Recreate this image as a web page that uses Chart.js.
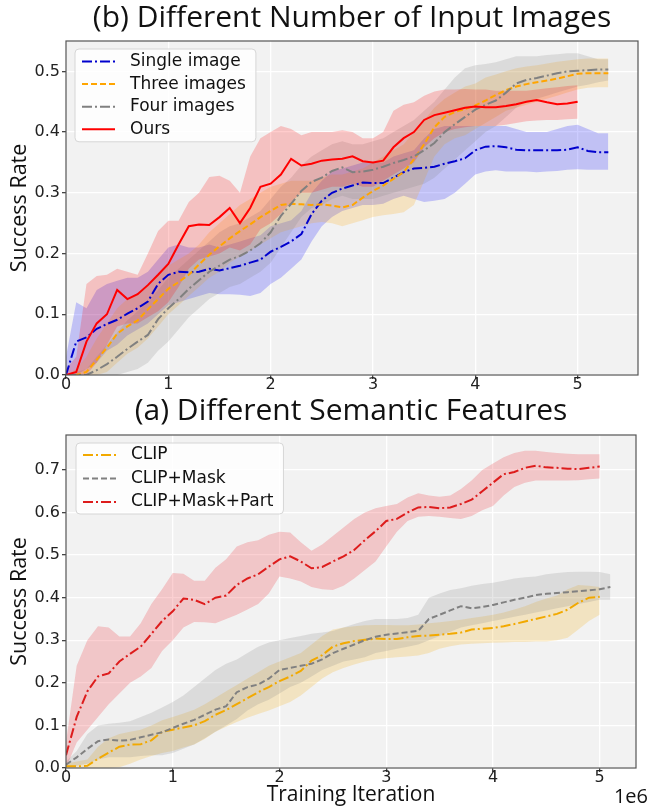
<!DOCTYPE html>
<html>
<head>
<meta charset="utf-8">
<script src="https://cdn.jsdelivr.net/npm/chart.js@4.4.1/dist/chart.umd.min.js"></script>
<style>
  html, body { margin: 0; padding: 0; background: #fff; }
  #wrap { position: relative; width: 654px; height: 806px; }
  #topChart { position: absolute; left: 0; top: 0; }
  #bottomChart { position: absolute; left: 0; top: 395px; }
</style>
</head>
<body>
<div id="wrap">
  <canvas id="topChart" width="654" height="400"></canvas>
  <canvas id="bottomChart" width="654" height="411"></canvas>
</div>
<script>
// ---------- (b) Different Number of Input Images ----------
const iterTop = [0,0.1,0.2,0.3,0.4,0.5,0.6,0.7,0.8,0.9,1.0,1.1,1.2,1.3,1.4,1.5,1.6,1.7,1.8,1.9,
  2.0,2.1,2.2,2.3,2.4,2.5,2.6,2.7,2.8,2.9,3.0,3.1,3.2,3.3,3.4,3.5,3.6,3.7,3.8,3.9,
  4.0,4.1,4.2,4.3,4.4,4.5,4.6,4.7,4.8,4.9,5.0,5.1,5.2,5.3];

const singleMean = [0.000,0.055,0.062,0.076,0.084,0.091,0.101,0.110,0.121,0.150,
  0.165,0.170,0.169,0.170,0.175,0.172,0.176,0.180,0.185,0.190,
  0.203,0.211,0.220,0.232,0.265,0.287,0.300,0.307,0.312,0.317,
  0.316,0.316,0.325,0.334,0.340,0.341,0.343,0.348,0.352,0.357,
  0.370,0.376,0.377,0.375,0.371,0.370,0.370,0.370,0.370,0.371,
  0.375,0.369,0.367,0.367];
const singleUpper = [0.030,0.120,0.110,0.140,0.150,0.155,0.160,0.160,0.170,0.190,
  0.210,0.215,0.210,0.210,0.215,0.210,0.215,0.220,0.225,0.230,
  0.245,0.250,0.255,0.270,0.300,0.320,0.335,0.340,0.345,0.350,
  0.350,0.350,0.360,0.365,0.370,0.390,0.405,0.410,0.410,0.410,
  0.410,0.410,0.410,0.410,0.405,0.400,0.400,0.400,0.405,0.410,
  0.412,0.405,0.398,0.398];
const singleLower = [0.000,0.000,0.010,0.020,0.040,0.050,0.065,0.075,0.085,0.100,
  0.115,0.120,0.125,0.130,0.135,0.133,0.133,0.132,0.130,0.135,
  0.150,0.160,0.175,0.190,0.220,0.245,0.260,0.270,0.275,0.280,
  0.280,0.282,0.290,0.295,0.290,0.285,0.287,0.290,0.300,0.315,
  0.330,0.335,0.337,0.335,0.335,0.335,0.334,0.335,0.336,0.338,
  0.339,0.338,0.338,0.338];

const threeMean = [0.000,0.000,0.005,0.025,0.045,0.068,0.080,0.090,0.108,0.125,
  0.142,0.153,0.165,0.182,0.198,0.212,0.225,0.237,0.248,0.260,
  0.270,0.280,0.282,0.281,0.280,0.281,0.279,0.276,0.280,0.292,
  0.303,0.312,0.323,0.334,0.355,0.380,0.408,0.425,0.433,0.438,
  0.444,0.452,0.461,0.469,0.475,0.479,0.482,0.485,0.488,0.492,
  0.496,0.497,0.497,0.497];
const threeUpper = [0.000,0.010,0.030,0.060,0.085,0.110,0.125,0.135,0.150,0.165,
  0.180,0.190,0.200,0.215,0.235,0.250,0.265,0.280,0.290,0.300,
  0.310,0.315,0.320,0.320,0.320,0.325,0.330,0.330,0.335,0.340,
  0.350,0.360,0.370,0.380,0.400,0.420,0.440,0.455,0.465,0.475,
  0.480,0.490,0.495,0.500,0.505,0.508,0.510,0.513,0.516,0.518,
  0.520,0.521,0.521,0.521];
const threeLower = [0.000,0.000,0.000,0.000,0.005,0.020,0.035,0.045,0.060,0.080,
  0.100,0.115,0.130,0.145,0.160,0.170,0.185,0.195,0.205,0.215,
  0.225,0.235,0.240,0.245,0.250,0.252,0.250,0.245,0.250,0.255,
  0.260,0.263,0.265,0.268,0.280,0.320,0.360,0.380,0.390,0.395,
  0.405,0.415,0.425,0.435,0.440,0.445,0.450,0.455,0.460,0.465,
  0.470,0.473,0.474,0.474];

const fourMean = [0.000,0.000,0.000,0.008,0.018,0.030,0.043,0.055,0.066,0.092,
  0.110,0.125,0.142,0.156,0.170,0.180,0.190,0.196,0.205,0.217,
  0.235,0.262,0.282,0.303,0.318,0.325,0.336,0.342,0.334,0.335,
  0.338,0.343,0.349,0.354,0.360,0.370,0.382,0.400,0.413,0.425,
  0.437,0.445,0.452,0.465,0.480,0.486,0.489,0.493,0.497,0.500,
  0.501,0.502,0.503,0.503];
const fourUpper = [0.000,0.005,0.010,0.030,0.050,0.070,0.090,0.105,0.120,0.140,
  0.160,0.175,0.190,0.205,0.220,0.235,0.245,0.250,0.260,0.270,
  0.290,0.310,0.325,0.345,0.360,0.370,0.380,0.385,0.380,0.380,
  0.385,0.390,0.400,0.410,0.420,0.435,0.450,0.470,0.490,0.505,
  0.510,0.512,0.515,0.520,0.525,0.525,0.525,0.527,0.528,0.530,
  0.530,0.525,0.520,0.520];
const fourLower = [0.000,0.000,0.000,0.000,0.000,0.000,0.005,0.010,0.020,0.040,
  0.055,0.075,0.095,0.110,0.125,0.135,0.145,0.150,0.160,0.170,
  0.185,0.210,0.235,0.260,0.275,0.280,0.290,0.295,0.290,0.290,
  0.290,0.295,0.300,0.305,0.310,0.315,0.325,0.340,0.355,0.370,
  0.385,0.400,0.410,0.425,0.440,0.450,0.455,0.460,0.465,0.470,
  0.475,0.478,0.482,0.485];

const oursMean = [0.000,0.005,0.055,0.085,0.100,0.140,0.125,0.133,0.148,0.165,
  0.183,0.215,0.245,0.248,0.247,0.260,0.275,0.250,0.275,0.310,
  0.315,0.330,0.356,0.345,0.348,0.353,0.355,0.356,0.360,0.352,
  0.350,0.353,0.375,0.390,0.400,0.420,0.428,0.432,0.436,0.440,
  0.442,0.441,0.441,0.443,0.446,0.450,0.453,0.449,0.446,0.447,
  0.450];
const oursUpper = [0.010,0.030,0.150,0.163,0.165,0.175,0.170,0.165,0.200,0.237,
  0.254,0.254,0.285,0.300,0.326,0.328,0.320,0.300,0.360,0.390,
  0.400,0.410,0.405,0.395,0.400,0.400,0.400,0.403,0.400,0.390,
  0.390,0.400,0.435,0.445,0.449,0.460,0.467,0.470,0.470,0.471,
  0.470,0.470,0.468,0.468,0.468,0.468,0.470,0.472,0.474,0.476,
  0.477];
const oursLower = [0.000,0.000,0.000,0.020,0.050,0.080,0.085,0.085,0.095,0.105,
  0.120,0.145,0.175,0.190,0.195,0.200,0.210,0.205,0.215,0.240,
  0.250,0.265,0.285,0.300,0.300,0.305,0.310,0.310,0.315,0.310,
  0.310,0.320,0.330,0.340,0.350,0.375,0.390,0.400,0.405,0.408,
  0.410,0.410,0.410,0.412,0.415,0.418,0.419,0.420,0.420,0.421,
  0.422];

// ---------- (a) Different Semantic Features ----------
const iterBottom = [0,0.1,0.2,0.3,0.4,0.5,0.6,0.7,0.8,0.9,1.0,1.1,1.2,1.3,1.4,1.5,1.6,1.7,1.8,1.9,
  2.0,2.1,2.2,2.3,2.4,2.5,2.6,2.7,2.8,2.9,3.0,3.1,3.2,3.3,3.4,3.5,3.6,3.7,3.8,3.9,
  4.0,4.1,4.2,4.3,4.4,4.5,4.6,4.7,4.8,4.9,5.0,5.1];

const clipMean = [0.004,0.004,0.005,0.022,0.036,0.050,0.055,0.056,0.065,0.085,
  0.090,0.095,0.100,0.110,0.125,0.136,0.150,0.164,0.178,0.190,
  0.204,0.215,0.228,0.252,0.265,0.285,0.293,0.298,0.301,0.304,
  0.303,0.303,0.307,0.310,0.311,0.313,0.315,0.318,0.325,0.327,
  0.329,0.333,0.338,0.344,0.350,0.356,0.362,0.372,0.388,0.400,
  0.402];
const clipUpper = [0.010,0.015,0.020,0.050,0.070,0.080,0.085,0.090,0.100,0.112,
  0.120,0.128,0.137,0.150,0.165,0.180,0.195,0.210,0.225,0.240,
  0.250,0.260,0.270,0.290,0.310,0.325,0.330,0.333,0.335,0.336,
  0.336,0.335,0.335,0.337,0.340,0.342,0.345,0.348,0.352,0.356,
  0.360,0.365,0.372,0.380,0.390,0.398,0.405,0.420,0.430,0.428,
  0.425];
const clipLower = [0.000,0.000,0.000,0.000,0.000,0.002,0.010,0.020,0.028,0.035,
  0.040,0.048,0.055,0.068,0.085,0.097,0.108,0.118,0.127,0.135,
  0.145,0.155,0.170,0.190,0.210,0.225,0.235,0.243,0.250,0.255,
  0.258,0.260,0.262,0.264,0.270,0.280,0.286,0.290,0.292,0.293,
  0.294,0.295,0.296,0.296,0.297,0.297,0.300,0.306,0.325,0.345,
  0.360];

const maskMean = [0.008,0.025,0.045,0.063,0.067,0.064,0.066,0.072,0.078,0.084,
  0.094,0.104,0.113,0.125,0.137,0.145,0.178,0.190,0.196,0.210,
  0.230,0.235,0.240,0.245,0.255,0.270,0.280,0.290,0.300,0.308,
  0.313,0.316,0.319,0.322,0.350,0.360,0.370,0.380,0.375,0.378,
  0.383,0.389,0.395,0.400,0.406,0.409,0.411,0.413,0.415,0.417,
  0.420,0.425];
const maskUpper = [0.015,0.040,0.080,0.100,0.104,0.106,0.110,0.120,0.130,0.142,
  0.155,0.170,0.190,0.210,0.230,0.245,0.255,0.270,0.285,0.295,
  0.300,0.305,0.310,0.315,0.318,0.322,0.330,0.338,0.345,0.350,
  0.350,0.350,0.352,0.360,0.400,0.410,0.418,0.422,0.428,0.432,
  0.435,0.440,0.445,0.448,0.450,0.455,0.458,0.460,0.461,0.461,
  0.460,0.455];
const maskLower = [0.000,0.005,0.010,0.020,0.025,0.025,0.025,0.028,0.030,0.030,
  0.035,0.045,0.055,0.070,0.085,0.100,0.115,0.135,0.150,0.160,
  0.175,0.190,0.200,0.215,0.230,0.240,0.250,0.255,0.260,0.270,
  0.275,0.280,0.285,0.290,0.300,0.310,0.320,0.330,0.335,0.340,
  0.345,0.350,0.355,0.360,0.365,0.370,0.375,0.380,0.385,0.390,
  0.395,0.395];

const partMean = [0.030,0.120,0.180,0.215,0.222,0.250,0.268,0.285,0.315,0.345,
  0.368,0.398,0.395,0.385,0.400,0.405,0.430,0.445,0.455,0.473,
  0.490,0.497,0.485,0.469,0.472,0.485,0.497,0.512,0.535,0.556,
  0.580,0.585,0.600,0.612,0.613,0.610,0.612,0.620,0.630,0.650,
  0.670,0.690,0.695,0.705,0.710,0.706,0.705,0.703,0.702,0.705,
  0.708];
const partUpper = [0.060,0.240,0.300,0.333,0.330,0.309,0.309,0.340,0.385,0.420,
  0.458,0.456,0.440,0.440,0.470,0.490,0.520,0.530,0.535,0.548,
  0.555,0.553,0.530,0.510,0.525,0.545,0.565,0.585,0.600,0.610,
  0.615,0.620,0.635,0.645,0.640,0.637,0.640,0.655,0.675,0.700,
  0.715,0.730,0.740,0.745,0.745,0.742,0.740,0.738,0.737,0.737,
  0.737];
const partLower = [0.000,0.060,0.090,0.120,0.150,0.175,0.200,0.215,0.235,0.275,
  0.300,0.330,0.343,0.342,0.340,0.350,0.360,0.372,0.385,0.410,
  0.450,0.445,0.438,0.425,0.420,0.418,0.428,0.445,0.465,0.485,
  0.520,0.555,0.580,0.590,0.592,0.590,0.587,0.585,0.592,0.605,
  0.615,0.640,0.660,0.670,0.675,0.675,0.675,0.675,0.676,0.678,
  0.680];

const xTicks = [0, 1, 2, 3, 4, 5];

// ---------- helpers ----------
function pts(xs, ys) {
  return ys.map((y, i) => ({ x: xs[i], y: y }));
}

// lower edge + upper edge filled down to it, then the mean line on top
function series(xs, mean, lo, hi, s, style) {
  return [
    { data: pts(xs, lo), borderWidth: 0, borderColor: 'transparent', pointRadius: 0, fill: false, order: 10 - s },
    { data: pts(xs, hi), borderWidth: 0, borderColor: 'transparent', pointRadius: 0, fill: '-1',
      backgroundColor: style.band, order: 10 - s },
    { label: style.label, data: pts(xs, mean), borderColor: style.color, borderWidth: 2,
      borderDash: style.dash, pointRadius: 0, fill: false, order: -s }
  ];
}

const DASHDOT = [10, 3, 2, 3];
const DASHED = [6, 3];

const framePlugin = {
  id: 'frame',
  beforeDraw(chart) {
    const { ctx, chartArea: a } = chart;
    ctx.save();
    ctx.fillStyle = '#f2f2f2';
    ctx.fillRect(a.left, a.top, a.right - a.left, a.bottom - a.top);
    ctx.restore();
  },
  afterDraw(chart, args, o) {
    const { ctx, chartArea: a } = chart;
    ctx.save();
    ctx.strokeStyle = '#555';
    ctx.lineWidth = 1.2;
    ctx.strokeRect(a.left, a.top, a.right - a.left, a.bottom - a.top);

    // legend box inside the plot, top left
    const items = chart.data.datasets.filter(d => d.label);
    ctx.font = o.font;
    const tw = Math.max(...items.map(d => ctx.measureText(d.label).width));
    const bx = a.left + o.dx, by = a.top + o.dy;
    const bw = o.textX + tw + 10;
    const bh = o.first * 2 + (items.length - 1) * o.rowH;
    ctx.fillStyle = 'rgba(255,255,255,0.8)';
    ctx.strokeStyle = '#d6d6d6';
    ctx.lineWidth = 1;
    ctx.beginPath();
    ctx.roundRect(bx, by, bw, bh, 4);
    ctx.fill();
    ctx.stroke();
    items.forEach((d, i) => {
      const y = by + o.first + i * o.rowH;
      ctx.strokeStyle = d.borderColor;
      ctx.lineWidth = 2;
      ctx.setLineDash(d.borderDash || []);
      ctx.beginPath();
      ctx.moveTo(bx + 7, y);
      ctx.lineTo(bx + 40, y);
      ctx.stroke();
      ctx.setLineDash([]);
      ctx.fillStyle = '#111';
      ctx.textBaseline = 'middle';
      ctx.textAlign = 'left';
      ctx.fillText(d.label, bx + o.textX, y);
    });

    if (o.offsetText) {
      ctx.font = '20px "Open Sans"';
      ctx.fillStyle = '#111';
      ctx.textAlign = 'right';
      ctx.textBaseline = 'middle';
      ctx.fillText(o.offsetText, o.offsetX, o.offsetY);
    }
    ctx.restore();
  }
};

function makeOptions(cfg) {
  return {
    responsive: false,
    animation: false,
    layout: { padding: { left: 0, right: cfg.right, top: 0, bottom: 0 } },
    plugins: {
      legend: { display: false },
      tooltip: { enabled: false },
      title: {
        display: true, text: cfg.title, color: '#111', fullSize: false,
        font: { family: 'Open Sans', size: 30, weight: 'normal', lineHeight: 1.12 },
        padding: cfg.titlePad
      },
      frame: cfg.legend
    },
    scales: {
      x: {
        type: 'linear', min: 0, max: cfg.xMax,
        afterBuildTicks: s => { s.ticks = xTicks.map(v => ({ value: v })); },
        ticks: { color: '#222', padding: -2, font: { family: 'DejaVu Sans', size: 16, lineHeight: 1 },
                 callback: v => String(v) },
        grid: { color: '#ffffff', lineWidth: 1.3, tickColor: '#444', tickLength: 4 },
        border: { display: false },
        title: cfg.xTitle,
        afterFit: s => { s.height = cfg.xHeight; }
      },
      y: {
        type: 'linear', min: 0, max: cfg.yMax,
        ticks: { stepSize: 0.1, includeBounds: false, color: '#222', padding: 2,
                 font: { family: 'DejaVu Sans', size: 16 }, callback: v => v.toFixed(1) },
        grid: { color: '#ffffff', lineWidth: 1.3, tickColor: '#444', tickLength: 4 },
        border: { display: false },
        title: { display: true, text: 'Success Rate', color: '#111',
                 font: { family: 'Open Sans', size: 21.5, lineHeight: 1.2 }, padding: { top: 7, bottom: 0 } },
        afterFit: s => { s.width = 66; }
      }
    }
  };
}

new Chart(document.getElementById('topChart'), {
  type: 'line',
  data: {
    datasets: [
      ...series(iterTop, singleMean, singleLower, singleUpper, 0,
        { label: 'Single image', color: '#0000cd', band: 'rgba(0,0,255,0.2)', dash: DASHDOT }),
      ...series(iterTop, threeMean, threeLower, threeUpper, 1,
        { label: 'Three images', color: '#ffa500', band: 'rgba(255,165,0,0.2)', dash: DASHED }),
      ...series(iterTop, fourMean, fourLower, fourUpper, 2,
        { label: 'Four images', color: '#808080', band: 'rgba(128,128,128,0.2)', dash: DASHDOT }),
      ...series(iterTop, oursMean, oursLower, oursUpper, 3,
        { label: 'Ours', color: '#ff0000', band: 'rgba(255,0,0,0.2)', dash: [] })
    ]
  },
  options: makeOptions({
    title: '(b) Different Number of Input Images',
    titlePad: { top: 1.2, bottom: 6.2 },
    right: 16, xMax: 5.59, yMax: 0.55, xHeight: 25,
    xTitle: { display: false },
    legend: { font: '17px "DejaVu Sans"', dx: 9, dy: 8, first: 12.5, rowH: 22.6, textX: 55 }
  }),
  plugins: [framePlugin]
});

new Chart(document.getElementById('bottomChart'), {
  type: 'line',
  data: {
    datasets: [
      ...series(iterBottom, clipMean, clipLower, clipUpper, 0,
        { label: 'CLIP', color: '#f2a900', band: 'rgba(245,170,0,0.2)', dash: DASHDOT }),
      ...series(iterBottom, maskMean, maskLower, maskUpper, 1,
        { label: 'CLIP+Mask', color: '#808080', band: 'rgba(128,128,128,0.2)', dash: DASHED }),
      ...series(iterBottom, partMean, partLower, partUpper, 2,
        { label: 'CLIP+Mask+Part', color: '#dd1c1c', band: 'rgba(235,40,50,0.22)', dash: DASHDOT })
    ]
  },
  options: makeOptions({
    title: '(a) Different Semantic Features',
    titlePad: { top: 0, bottom: 6.4 },
    right: 18, xMax: 5.34, yMax: 0.782, xHeight: 38,
    xTitle: { display: true, text: 'Training Iteration', color: '#111',
              font: { family: 'Open Sans', size: 21, lineHeight: 1 }, padding: { top: 0, bottom: 0 } },
    legend: { font: '17px "DejaVu Sans"', dx: 10, dy: 8, first: 12, rowH: 23.5, textX: 55,
              offsetText: '1e6', offsetX: 648, offsetY: 402 }
  }),
  plugins: [framePlugin]
});
</script>
</body>
</html>
